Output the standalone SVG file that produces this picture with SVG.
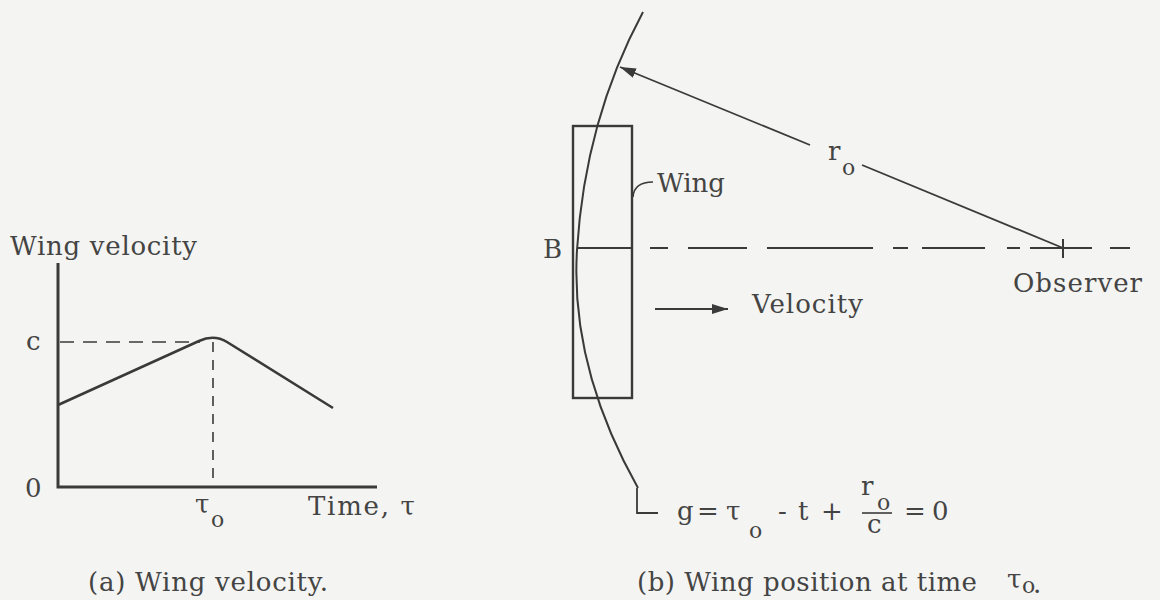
<svg xmlns="http://www.w3.org/2000/svg" width="1160" height="600" viewBox="0 0 1160 600">
  <defs>
    <style>
      .ln{fill:none;stroke:#3a3a3a;stroke-width:2;stroke-linecap:butt}
      .ax{fill:none;stroke:#3a3a3a;stroke-width:3}
      .ds{fill:none;stroke:#3a3a3a;stroke-width:1.6}
      .t{font-family:"DejaVu Serif","Liberation Serif",serif;font-size:26px;fill:#444}
      .s{font-family:"DejaVu Serif","Liberation Serif",serif;font-size:22px;fill:#444}
    </style>
    <marker id="ah" markerUnits="userSpaceOnUse" markerWidth="18" markerHeight="12" refX="16" refY="5" orient="auto">
      <path d="M0,0 L16,5 L0,10 Z" fill="#3a3a3a"/>
    </marker>
  </defs>
  <rect x="0" y="0" width="1160" height="600" fill="#f4f4f2"/>

  <g id="graph-a">
    <path class="ax" d="M58,263 L58,487 L377,487"/>
    <path class="ds" d="M60,342 L200,342" stroke-dasharray="14 9"/>
    <path class="ds" d="M213,342 L213,486" stroke-dasharray="10 8"/>
    <path class="ln" style="stroke-width:2.6" d="M58,405 L199,341 Q214,334 227,342 L333,408"/>
    <text class="t" x="10" y="255" textLength="187">Wing velocity</text>
    <text class="t" x="26" y="350">c</text>
    <text class="t" x="25" y="497">0</text>
    <text class="t" x="195" y="513">τ</text>
    <text class="s" x="211" y="527">o</text>
    <text class="t" x="308" y="515" textLength="107">Time, τ</text>
  </g>

  <g id="wing">
    <rect class="ln" x="573" y="126" width="59" height="272" style="stroke-width:2.4"/>
    <text class="t" x="657" y="192">Wing</text>
    <path class="ln" d="M633,197 Q634,182 653,182" style="stroke-width:1.6"/>
  </g>

  <g id="wavefront">
    <path class="ln" d="M643,12 Q585,120 577,250 Q570,367 638,488"/>
    <path class="ln" d="M637,488 L637,513 L658,513" style="stroke-width:1.8"/>
  </g>

  <g id="axis-b">
    <path class="ln" d="M577,248 L632,248"/>
    <path class="ln" d="M650,248 L668,248 M688,248 L747,248 M767,248 L873,248 M893,248 L908,248 M922,248 L985,248 M1007,248 L1020,248 M1030,248 L1092,248 M1110,248 L1130,248"/>
    <text class="t" x="543" y="258">B</text>
  </g>

  <g id="observer">
    <path class="ln" d="M1063,239 L1063,258"/>
    <text class="t" x="1013" y="292" textLength="129">Observer</text>
  </g>

  <g id="connectors">
    <path class="ln" d="M810,145 L620,67" marker-end="url(#ah)" style="stroke-width:1.8"/>
    <path class="ln" d="M862,165 L1063,248" style="stroke-width:1.8"/>
    <path class="ln" d="M655,309 L728,309" marker-end="url(#ah)" style="stroke-width:1.8"/>
  </g>

  <g id="labels-b">
    <text class="t" x="828" y="160">r</text>
    <text class="s" x="842" y="175">o</text>
    <text class="t" x="752" y="313" textLength="111">Velocity</text>
  </g>

  <g id="equation">
    <text class="t" x="677" y="520">g</text>
    <text class="t" x="697" y="520">=</text>
    <text class="t" x="726" y="520">τ</text>
    <text class="s" x="749" y="538">o</text>
    <text class="t" x="778" y="520">-</text>
    <text class="t" x="798" y="520">t</text>
    <text class="t" x="821" y="520">+</text>
    <text class="t" x="861" y="495">r</text>
    <text class="s" x="877" y="510">o</text>
    <path class="ln" d="M862,513 L892,513" style="stroke-width:1.6"/>
    <text class="t" x="867" y="533">c</text>
    <text class="t" x="904" y="520">=</text>
    <text class="t" x="932" y="520">0</text>
  </g>

  <g id="captions">
    <text class="t" x="88" y="591" textLength="240">(a) Wing velocity.</text>
    <text class="t" x="637" y="591" textLength="340">(b) Wing position at time</text>
    <text class="t" x="1007" y="588">τ</text>
    <text class="s" x="1022" y="593">o</text>
    <text class="t" x="1033" y="593">.</text>
  </g>
</svg>
